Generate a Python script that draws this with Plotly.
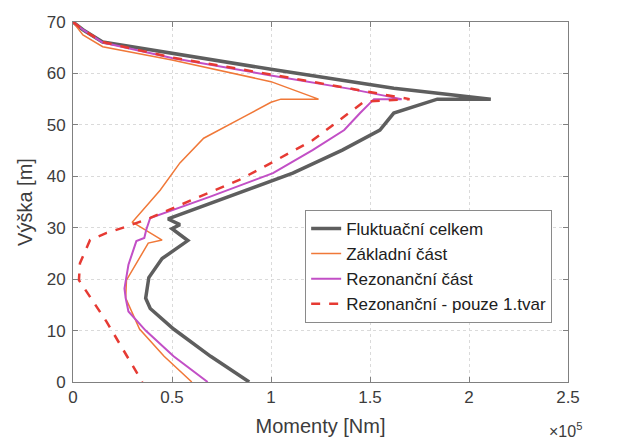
import plotly.graph_objects as go

# Momenty (x 1e5 Nm) vs. Výška (m)
fluct_x = [0, 0.05, 0.15, 0.54, 1.0, 1.62, 2.11, 1.84, 1.62, 1.55, 1.45, 1.36, 1.11, 0.78, 0.48, 0.54, 0.50, 0.58, 0.45, 0.383, 0.367, 0.39, 0.508, 0.695, 0.89]
fluct_y = [70, 68.5, 66.1, 63.6, 60.8, 57.1, 55.0, 55.0, 52.3, 49, 47, 45.1, 40.6, 36, 31.7, 30.6, 29.8, 27.5, 24, 20.3, 16.3, 14.3, 10.3, 5, 0]

zakl_x = [0, 0.05, 0.15, 0.5, 1.0, 1.24, 1.05, 1.0, 0.86, 0.66, 0.54, 0.44, 0.30, 0.45, 0.38, 0.32, 0.27, 0.266, 0.336, 0.46, 0.60]
zakl_y = [70, 67.5, 65.2, 62.6, 58.4, 55, 55, 54.4, 51.5, 47.4, 42.6, 37.3, 31.1, 27.6, 27.0, 23.1, 19.8, 16.3, 10.3, 5, 0]

rez_x = [0, 0.05, 0.15, 0.5, 1.0, 1.4, 1.66, 1.52, 1.45, 1.37, 1.21, 1.01, 0.69, 0.39, 0.37, 0.36, 0.32, 0.28, 0.26, 0.266, 0.28, 0.367, 0.508, 0.68]
rez_y = [70, 68.5, 66, 63, 59.6, 57, 55, 55, 52.3, 49, 45.1, 40.6, 36, 31.9, 29.6, 28.0, 27.4, 22.8, 18.2, 16.3, 13.7, 10, 5, 0]

rez1_x = [0, 0.05, 0.15, 0.5, 1.0, 1.4, 1.7, 1.47, 1.21, 1.01, 0.84, 0.54, 0.39, 0.27, 0.17, 0.086, 0.035, 0.03, 0.17, 0.35]
rez1_y = [70, 68.5, 66.1, 63.1, 59.8, 57.1, 55, 54.5, 47, 42.8, 39.3, 34.4, 31.9, 30.2, 29, 27.6, 23.1, 19.8, 11.7, 0]

names = ["Fluktuační celkem", "Základní část", "Rezonanční část", "Rezonanční - pouze 1.tvar"]
x_ticks = [0, 0.5, 1, 1.5, 2, 2.5]
x_tick_text = ["0", "0.5", "1", "1.5", "2", "2.5"]
y_ticks = [0, 10, 20, 30, 40, 50, 60, 70]

FONT = "Liberation Sans, Arial, sans-serif"
TXT = "#3c3c3c"

fig = go.Figure()
series = [
    (fluct_x, fluct_y, names[0], dict(color="#5e5e5e", width=3.5)),
    (zakl_x, zakl_y, names[1], dict(color="#f07838", width=1.5)),
    (rez_x, rez_y, names[2], dict(color="#c24fc6", width=2)),
    (rez1_x, rez1_y, names[3], dict(color="#e63a33", width=2.5, dash="dash")),
]
for i, (xs, ys, nm, ln) in enumerate(series):
    fig.add_trace(go.Scatter(x=xs, y=ys, mode="lines", name=nm, line=ln))

axis_common = dict(
    showline=True, linecolor="#808080", linewidth=1, mirror="ticks",
    ticks="inside", ticklen=5, tickcolor="#808080",
    showgrid=True, gridcolor="#dadada", griddash="dot", gridwidth=1,
    zeroline=False,
    tickfont=dict(family=FONT, size=17, color=TXT),
)

fig.update_layout(
    width=619, height=447,
    margin=dict(l=73, r=51, t=22, b=65),
    paper_bgcolor="white", plot_bgcolor="white",
    font=dict(family=FONT, color=TXT),
    xaxis=dict(range=[0, 2.5], tickvals=x_ticks, ticktext=x_tick_text,
               title=dict(text="Momenty [Nm]", font=dict(family=FONT, size=20, color=TXT), standoff=12),
               **axis_common),
    yaxis=dict(range=[0, 70], tickvals=y_ticks, ticklabelstandoff=3,
               title=dict(text="Výška [m]", font=dict(family=FONT, size=20, color=TXT), standoff=8),
               **axis_common),
    legend=dict(x=0.469, y=0.478, xanchor="left", yanchor="top",
                bordercolor="#8a8a8a", borderwidth=1, bgcolor="white",
                font=dict(family=FONT, size=17, color="#202020"),
                tracegroupgap=0),
    showlegend=True,
)

fig.add_annotation(text="×10<sup>5</sup>", xref="paper", yref="paper",
                   x=0.995, y=-0.1, xanchor="center", yanchor="top",
                   showarrow=False, font=dict(family=FONT, size=16, color=TXT))

fig.write_html("out.html")
